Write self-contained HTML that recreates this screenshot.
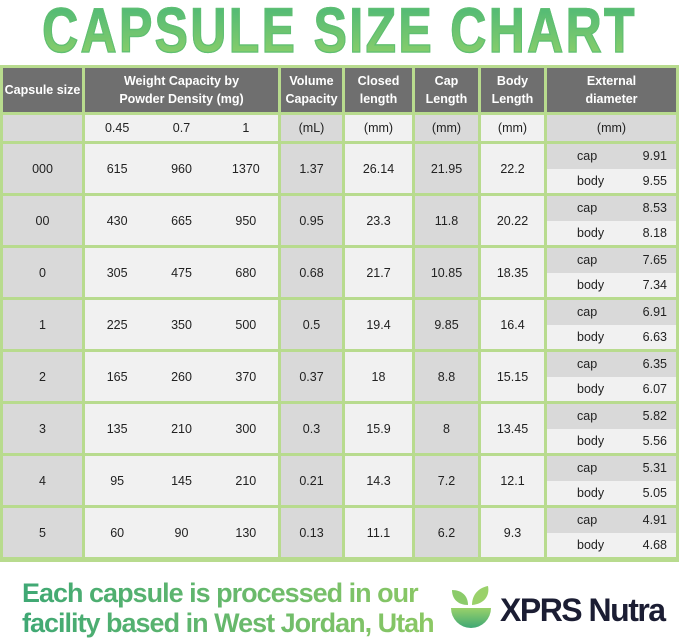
<!DOCTYPE html>
<html><head><meta charset="utf-8"><style>
*{margin:0;padding:0;box-sizing:border-box}
body{width:679px;height:641px;background:#fff;font-family:"Liberation Sans",sans-serif;position:relative;overflow:hidden}
.title{position:absolute;top:2px;left:0;width:679px;text-align:center;font-size:49px;font-weight:bold;letter-spacing:2.3px;
background:linear-gradient(#4cb877,#8fd069);-webkit-background-clip:text;background-clip:text;color:transparent;line-height:46px;transform:scale(1.02,1.28);transform-origin:50% 0;-webkit-text-stroke:1px #5fbf72}
.grid{position:absolute;left:0;top:65px;width:679px;height:497px;background:#b8db8e;padding:3px;display:grid;
grid-template-columns:79px 193px 61px 67px 63px 63px 129px;grid-template-rows:44px 26px repeat(8,49px);gap:3px}
.grid>div{display:flex;align-items:center;justify-content:center;font-size:12.5px;color:#222;text-align:center}
.h{background:#6f6f6f;color:#fff!important;font-weight:bold;line-height:18px}
.g{background:#d9d9d9}.l{background:#f1f1f1}
.w{display:grid!important;grid-template-columns:1fr 1fr 1fr}
.w span{text-align:center}
.e{flex-direction:column;align-items:stretch!important}
.e>div{flex:1;display:flex;justify-content:space-between;align-items:center;padding:0 9px 0 30px}
.foot{position:absolute;left:22px;top:578px;font-size:27px;font-weight:bold;line-height:30px;letter-spacing:-1px;
background:linear-gradient(90deg,#3fa874,#8cc864);-webkit-background-clip:text;background-clip:text;color:transparent}
.brand{position:absolute;left:500px;top:592px;font-size:32px;font-weight:bold;color:#1b1d33;letter-spacing:-1.5px}
</style></head><body>
<div class="title">CAPSULE SIZE CHART</div>
<div class="grid">
<div class="h">Capsule size</div><div class="h">Weight Capacity by<br>Powder Density (mg)</div><div class="h">Volume<br>Capacity</div><div class="h">Closed<br>length</div><div class="h">Cap<br>Length</div><div class="h">Body<br>Length</div><div class="h">External<br>diameter</div>
<div class="g"></div><div class="l w"><span>0.45</span><span>0.7</span><span>1</span></div><div class="g">(mL)</div><div class="l">(mm)</div><div class="g">(mm)</div><div class="l">(mm)</div><div class="g">(mm)</div>

<div class="g">000</div><div class="l w"><span>615</span><span>960</span><span>1370</span></div><div class="g">1.37</div><div class="l">26.14</div><div class="g">21.95</div><div class="l">22.2</div><div class="e"><div class="g"><span>cap</span><span>9.91</span></div><div class="l"><span>body</span><span>9.55</span></div></div>
<div class="g">00</div><div class="l w"><span>430</span><span>665</span><span>950</span></div><div class="g">0.95</div><div class="l">23.3</div><div class="g">11.8</div><div class="l">20.22</div><div class="e"><div class="g"><span>cap</span><span>8.53</span></div><div class="l"><span>body</span><span>8.18</span></div></div>
<div class="g">0</div><div class="l w"><span>305</span><span>475</span><span>680</span></div><div class="g">0.68</div><div class="l">21.7</div><div class="g">10.85</div><div class="l">18.35</div><div class="e"><div class="g"><span>cap</span><span>7.65</span></div><div class="l"><span>body</span><span>7.34</span></div></div>
<div class="g">1</div><div class="l w"><span>225</span><span>350</span><span>500</span></div><div class="g">0.5</div><div class="l">19.4</div><div class="g">9.85</div><div class="l">16.4</div><div class="e"><div class="g"><span>cap</span><span>6.91</span></div><div class="l"><span>body</span><span>6.63</span></div></div>
<div class="g">2</div><div class="l w"><span>165</span><span>260</span><span>370</span></div><div class="g">0.37</div><div class="l">18</div><div class="g">8.8</div><div class="l">15.15</div><div class="e"><div class="g"><span>cap</span><span>6.35</span></div><div class="l"><span>body</span><span>6.07</span></div></div>
<div class="g">3</div><div class="l w"><span>135</span><span>210</span><span>300</span></div><div class="g">0.3</div><div class="l">15.9</div><div class="g">8</div><div class="l">13.45</div><div class="e"><div class="g"><span>cap</span><span>5.82</span></div><div class="l"><span>body</span><span>5.56</span></div></div>
<div class="g">4</div><div class="l w"><span>95</span><span>145</span><span>210</span></div><div class="g">0.21</div><div class="l">14.3</div><div class="g">7.2</div><div class="l">12.1</div><div class="e"><div class="g"><span>cap</span><span>5.31</span></div><div class="l"><span>body</span><span>5.05</span></div></div>
<div class="g">5</div><div class="l w"><span>60</span><span>90</span><span>130</span></div><div class="g">0.13</div><div class="l">11.1</div><div class="g">6.2</div><div class="l">9.3</div><div class="e"><div class="g"><span>cap</span><span>4.91</span></div><div class="l"><span>body</span><span>4.68</span></div></div>
</div>
<div class="foot">Each capsule is processed in our<br>facility based in West Jordan, Utah</div>
<svg style="position:absolute;left:448px;top:586px" width="46" height="52" viewBox="0 0 46 52">
<defs><linearGradient id="lg" x1="0" y1="0" x2="0" y2="1"><stop offset="0" stop-color="#9ad16a"/><stop offset="1" stop-color="#3fa874"/></linearGradient></defs>
<path d="M3 22 H43 A20 20 0 0 1 3 22 Z" fill="url(#lg)"/>
<path d="M4 4 C14 4 20 10 20 19 C10 19 4 13 4 4Z" fill="#8bcb6a"/>
<path d="M40 0 C42 10 36 18 24 19 C24 9 30 2 40 0Z" fill="#9ad16a"/>
</svg>
<div class="brand">XPRS Nutra</div>
</body></html>
